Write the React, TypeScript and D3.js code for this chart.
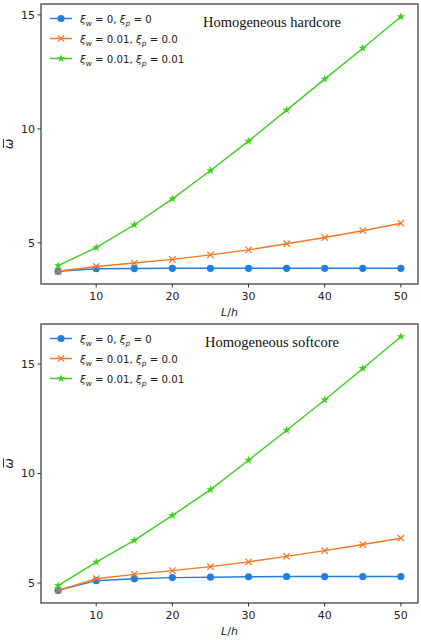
import React from 'react';
import * as d3 from 'd3';

const lengthRatios = [5, 10, 15, 20, 25, 30, 35, 40, 45, 50];

// Homogeneous hardcore
const hardNoDamping = [3.75, 3.86, 3.87, 3.88, 3.88, 3.88, 3.88, 3.88, 3.88, 3.88];
const hardWallOnly = [3.75, 3.96, 4.11, 4.27, 4.47, 4.69, 4.96, 5.23, 5.53, 5.86];
const hardWallCore = [4.0, 4.79, 5.79, 6.93, 8.17, 9.46, 10.82, 12.18, 13.54, 14.92];

// Homogeneous softcore
const softNoDamping = [4.67, 5.11, 5.2, 5.25, 5.27, 5.29, 5.3, 5.3, 5.3, 5.3];
const softWallOnly = [4.67, 5.2, 5.4, 5.57, 5.75, 5.97, 6.22, 6.48, 6.76, 7.05];
const softWallCore = [4.88, 5.96, 6.95, 8.09, 9.27, 10.61, 11.98, 13.36, 14.8, 16.25];

const xTicks = [10, 20, 30, 40, 50];
const yTicks = [5, 10, 15];
const legendLabels = [
  { w: '0', p: '0' },
  { w: '0.01', p: '0.0' },
  { w: '0.01', p: '0.01' },
];
const seriesColors = ['#1f7fe0', '#f5761f', '#3ccf1c'];
const seriesMarkers = ['circle', 'x', 'star'];

const W = 421;
const H = 640;
const tickFont = "'DejaVu Sans', sans-serif";

const panels = [
  { title: 'Homogeneous hardcore', series: [hardNoDamping, hardWallOnly, hardWallCore], top: 4, bottom: 284 },
  { title: 'Homogeneous softcore', series: [softNoDamping, softWallOnly, softWallCore], top: 324, bottom: 603 },
];

const left = 41;
const right = 418;

function padded(lo: number, hi: number): [number, number] {
  const m = (hi - lo) * 0.05;
  return [lo - m, hi + m];
}

function Marker({ kind, x, y, color }: { kind: string; x: number; y: number; color: string }) {
  if (kind === 'circle') return <circle cx={x} cy={y} r={3.6} fill={color} />;
  if (kind === 'x') {
    const s = 3.2;
    return (
      <path
        d={`M${x - s},${y - s}L${x + s},${y + s}M${x - s},${y + s}L${x + s},${y - s}`}
        stroke={color}
        strokeWidth={1.2}
        fill="none"
      />
    );
  }
  const star = d3.symbol().type(d3.symbolStar).size(22)();
  return <path d={star || ''} transform={`translate(${x},${y})`} fill={color} />;
}

function Xi({ sub, value }: { sub: string; value: string }) {
  return (
    <>
      <tspan fontStyle="italic">ξ</tspan>
      <tspan fontStyle="italic" fontSize={7.5} dy={3}>{sub}</tspan>
      <tspan dy={-3}>{` = ${value}`}</tspan>
    </>
  );
}

function Panel({ title, series, top, bottom }: { title: string; series: number[][]; top: number; bottom: number }) {
  const all = series.flat();
  const x = d3.scaleLinear().domain(padded(5, 50)).range([left, right]);
  const y = d3.scaleLinear().domain(padded(d3.min(all)!, d3.max(all)!)).range([bottom, top]);
  const line = d3.line<number>().x((_, i) => x(lengthRatios[i])).y(d => y(d));
  const midY = (top + bottom) / 2;

  return (
    <g>
      {series.map((s, si) => (
        <g key={si}>
          <path d={line(s) || ''} fill="none" stroke={seriesColors[si]} strokeWidth={1.4} />
          {s.map((v, i) => (
            <Marker key={i} kind={seriesMarkers[si]} x={x(lengthRatios[i])} y={y(v)} color={seriesColors[si]} />
          ))}
        </g>
      ))}
      <rect x={left} y={top} width={right - left} height={bottom - top} fill="none" stroke="#333" strokeWidth={1.2} />
      {xTicks.map(t => (
        <g key={t} transform={`translate(${x(t)},${bottom})`}>
          <line y2={3.5} stroke="#333" />
          <text y={16} textAnchor="middle" fontFamily={tickFont} fontSize={11} fill="#222">{t}</text>
        </g>
      ))}
      {yTicks.map(t => (
        <g key={t} transform={`translate(${left},${y(t)})`}>
          <line x2={-3.5} stroke="#333" />
          <text x={-6} dy="0.35em" textAnchor="end" fontFamily={tickFont} fontSize={11} fill="#222">{t}</text>
        </g>
      ))}
      <text x={(left + right) / 2} y={bottom + 32} textAnchor="middle" fontFamily={tickFont} fontSize={11} fill="#222">
        <tspan fontStyle="italic">L</tspan>/<tspan fontStyle="italic">h</tspan>
      </text>
      <g transform={`translate(13,${midY}) rotate(-90)`}>
        <text textAnchor="middle" fontFamily={tickFont} fontSize={12.5} fontStyle="italic" fill="#222">ω</text>
        <line x1={-4} x2={5} y1={-9.5} y2={-9.5} stroke="#222" strokeWidth={0.9} />
      </g>
      <text x={272} y={top + 23} textAnchor="middle" fontFamily="'Liberation Serif', serif" fontSize={14.5} fill="#111">
        {title}
      </text>
      {legendLabels.map((lab, i) => {
        const ly = top + 14.5 + i * 20;
        return (
          <g key={i}>
            <line x1={50} x2={72} y1={ly} y2={ly} stroke={seriesColors[i]} strokeWidth={1.4} />
            <Marker kind={seriesMarkers[i]} x={61} y={ly} color={seriesColors[i]} />
            <text x={80} y={ly + 4} fontFamily={tickFont} fontSize={10.2} fill="#222">
              <Xi sub="w" value={lab.w + ','} />
              <tspan> </tspan>
              <Xi sub="p" value={lab.p} />
            </text>
          </g>
        );
      })}
    </g>
  );
}

export default function App() {
  return (
    <svg width={W} height={H} style={{ position: 'absolute', left: 0, top: 0, background: '#fff' }}>
      {panels.map(p => (
        <Panel key={p.title} {...p} />
      ))}
    </svg>
  );
}
